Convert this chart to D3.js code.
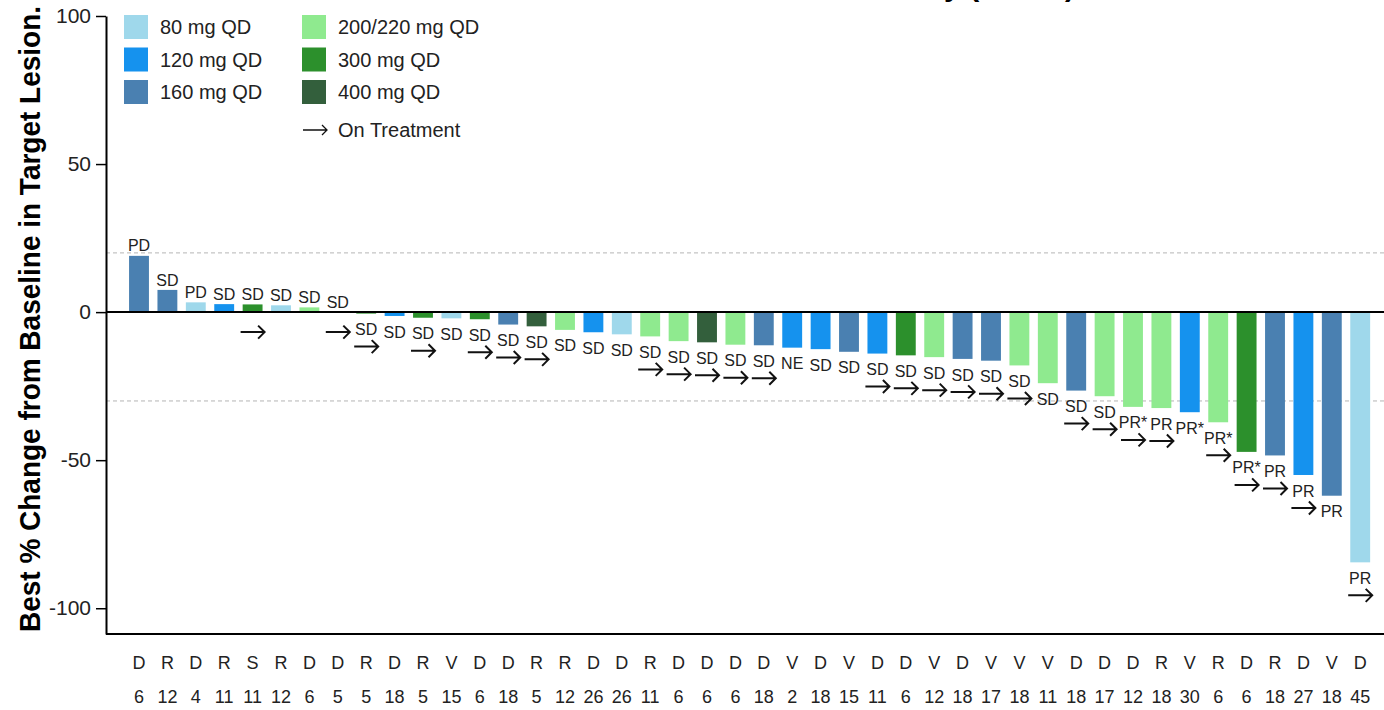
<!DOCTYPE html>
<html>
<head>
<meta charset="utf-8">
<script src="https://cdn.jsdelivr.net/npm/d3@7/dist/d3.min.js"></script>
<style>
  body { margin: 0; background: #fff; }
  svg { display: block; font-family: 'Liberation Sans', Arial, Helvetica, sans-serif; }
</style>
</head>
<body>
<div id="chart"></div>
<script>
// patient site letter and cycle count shown under each bar
const patientSite = ['D', 'R', 'D', 'R', 'S', 'R', 'D', 'D', 'R', 'D', 'R',
  'V', 'D', 'D', 'R', 'R', 'D', 'D', 'R', 'D', 'D', 'D',
  'D', 'V', 'D', 'V', 'D', 'D', 'V', 'D', 'V', 'V', 'V',
  'D', 'D', 'D', 'R', 'V', 'R', 'D', 'R', 'D', 'V', 'D'];
const patientCycles = ['6', '12', '4', '11', '11', '12', '6', '5', '5', '18', '5',
  '15', '6', '18', '5', '12', '26', '26', '11', '6', '6', '6',
  '18', '2', '18', '15', '11', '6', '12', '18', '17', '18', '11',
  '18', '17', '12', '18', '30', '6', '6', '18', '27', '18', '45'];
const bestChange = [19, 7.5, 3.3, 2.7, 2.6, 2.3, 1.6, 0, -0.5, -1.3, -1.9,
  -2.1, -2.4, -4.2, -4.8, -6, -6.8, -7.5, -8.2, -9.8, -10.2, -11,
  -11.2, -12, -12.5, -13.4, -14, -14.6, -15.2, -15.8, -16.4, -18, -24,
  -26.5, -28.4, -32, -32.4, -33.8, -37.2, -47.2, -48.4, -55, -62, -84.5];
const doseLevel = ['160', '160', '80', '120', '300', '80', '200/220', '200/220', '300', '120', '300',
  '80', '300', '160', '400', '200/220', '120', '80', '200/220', '200/220', '400', '200/220',
  '160', '120', '120', '160', '120', '300', '200/220', '160', '160', '200/220', '200/220',
  '160', '200/220', '200/220', '200/220', '120', '200/220', '300', '160', '120', '160', '80'];
const response = ['PD', 'SD', 'PD', 'SD', 'SD', 'SD', 'SD', 'SD', 'SD', 'SD', 'SD',
  'SD', 'SD', 'SD', 'SD', 'SD', 'SD', 'SD', 'SD', 'SD', 'SD', 'SD',
  'SD', 'NE', 'SD', 'SD', 'SD', 'SD', 'SD', 'SD', 'SD', 'SD', 'SD',
  'SD', 'SD', 'PR*', 'PR', 'PR*', 'PR*', 'PR*', 'PR', 'PR', 'PR', 'PR'];
const onTreatment = [0, 0, 0, 0, 1, 0, 0, 1, 1, 0, 1,
  0, 1, 1, 1, 0, 0, 0, 1, 1, 1, 1,
  1, 0, 0, 0, 1, 1, 1, 1, 1, 1, 0,
  1, 1, 1, 1, 0, 1, 1, 1, 1, 0, 1];
const yTicks = [100, 50, 0, -50, -100];
const doseKeys = ['80', '120', '160', '200/220', '300', '400'];
const refLines = [20, -30];

const width = 1384, height = 710;
const margin = { top: 16, right: 0, bottom: 76, left: 106 };
const doseColors = ['#9fd8eb', '#1592ee', '#4a80b1', '#8fea8f', '#2c902c', '#335f3c'];
const color = d3.scaleOrdinal().domain(doseKeys).range(doseColors);

const data = bestChange.map((v, i) => ({
  idx: i, value: v, dose: doseLevel[i], resp: response[i],
  onTx: onTreatment[i] === 1, site: patientSite[i], cycles: patientCycles[i]
}));

const svg = d3.select('#chart').append('svg')
  .attr('width', width)
  .attr('height', height);

const x = d3.scaleBand().domain(data.map(d => d.idx))
  .range([124.8, 1374.4]).paddingInner(0.3).paddingOuter(0.15);
const y = d3.scaleLinear().domain([-108.7, 100]).range([height - margin.bottom, margin.top]);
const cx = d => x(d.idx) + x.bandwidth() / 2;

// reference lines (+20 / -30)
svg.selectAll('.ref').data(refLines).enter().append('line')
  .attr('x1', margin.left).attr('x2', width)
  .attr('y1', d => y(d)).attr('y2', d => y(d))
  .attr('stroke', '#b5b5b5').attr('stroke-width', 1)
  .attr('stroke-dasharray', '4,3');

// bars
svg.selectAll('.bar').data(data).enter().append('rect')
  .attr('x', d => x(d.idx))
  .attr('width', x.bandwidth())
  .attr('y', d => y(Math.max(0, d.value)))
  .attr('height', d => Math.abs(y(d.value) - y(0)))
  .attr('fill', d => color(d.dose));

// zero line
svg.append('line')
  .attr('x1', margin.left).attr('x2', width)
  .attr('y1', y(0)).attr('y2', y(0))
  .attr('stroke', '#000').attr('stroke-width', 2);

// bottom frame line
svg.append('line')
  .attr('x1', margin.left).attr('x2', width)
  .attr('y1', y.range()[0]).attr('y2', y.range()[0])
  .attr('stroke', '#000').attr('stroke-width', 2);

// y axis
const yAxis = svg.append('g')
  .attr('transform', 'translate(' + margin.left + ',0)')
  .call(d3.axisLeft(y).tickValues(yTicks).tickSize(10).tickSizeOuter(0).tickPadding(5)
    .tickFormat(d => String(d)));
yAxis.select('.domain').attr('stroke-width', 2);
yAxis.selectAll('.tick line').attr('stroke-width', 1.5);
yAxis.selectAll('.tick text')
  .style('font-size', '21px')
  .attr('fill', '#222')
  .attr('font-family', "'Liberation Sans', Arial, sans-serif");

// response labels
const labelY = d => d.value >= 0 ? y(d.value) - 10 : y(d.value) + 16;
svg.selectAll('.resp').data(data).enter().append('text')
  .attr('x', d => cx(d))
  .attr('y', d => labelY(d))
  .attr('dy', '0.35em')
  .attr('text-anchor', 'middle')
  .attr('fill', '#222')
  .style('font-size', '16px')
  .text(d => d.resp);

// on-treatment arrows
function arrowPath(px, py, len, head) {
  return 'M' + (px - len / 2) + ',' + py + 'L' + (px + len / 2) + ',' + py +
    'M' + (px + len / 2 - head) + ',' + (py - head) + 'L' + (px + len / 2) + ',' + py +
    'L' + (px + len / 2 - head) + ',' + (py + head);
}
svg.selectAll('.arrow').data(data.filter(d => d.onTx)).enter().append('path')
  .attr('d', d => {
    const ay = d.value >= 0 ? y(0) + 20 : labelY(d) + 17;
    return arrowPath(cx(d), ay, 24, 6.5);
  })
  .attr('fill', 'none')
  .attr('stroke', '#111')
  .attr('stroke-width', 2);

// x labels: site letter and cycles
svg.selectAll('.site').data(data).enter().append('text')
  .attr('x', d => cx(d)).attr('y', 663).attr('dy', '0.35em')
  .attr('text-anchor', 'middle').attr('fill', '#222')
  .style('font-size', '18px')
  .text(d => d.site);
svg.selectAll('.cyc').data(data).enter().append('text')
  .attr('x', d => cx(d)).attr('y', 697).attr('dy', '0.35em')
  .attr('text-anchor', 'middle').attr('fill', '#222')
  .style('font-size', '18px')
  .text(d => d.cycles);

// legend
const legend = svg.append('g');
const legItems = legend.selectAll('.leg').data(doseKeys).enter().append('g')
  .attr('transform', (d, i) => 'translate(' + (i < 3 ? 124 : 302) + ',' + (27 + (i % 3) * 32.5) + ')');
legItems.append('rect')
  .attr('x', 0).attr('y', -12).attr('width', 24).attr('height', 24)
  .attr('fill', d => color(d));
legItems.append('text')
  .attr('x', 36).attr('y', 0).attr('dy', '0.35em')
  .attr('fill', '#222').style('font-size', '20px')
  .text(d => d + ' mg QD');
legend.append('path')
  .attr('d', arrowPath(315, 130, 24, 5))
  .attr('fill', 'none').attr('stroke', '#111').attr('stroke-width', 1.3);
legend.append('text')
  .attr('x', 338).attr('y', 130).attr('dy', '0.35em')
  .attr('fill', '#222').style('font-size', '20px')
  .text('On Treatment');

// y axis title
svg.append('text')
  .attr('transform', 'translate(40,632) rotate(-90)')
  .attr('x', 0).attr('y', 0)
  .attr('textLength', 626).attr('lengthAdjust', 'spacingAndGlyphs')
  .style('font-size', '29px').style('font-weight', 'bold')
  .attr('fill', '#000')
  .text('Best % Change from Baseline in Target Lesion.');

// chart title (cut off at the top edge, as in the source figure)
svg.append('text')
  .attr('x', 1075).attr('y', -4)
  .attr('text-anchor', 'end')
  .style('font-size', '30px').style('font-weight', 'bold')
  .attr('fill', '#000')
  .text('Patients Evaluable for Efficacy (n = 44)');
</script>
</body>
</html>
